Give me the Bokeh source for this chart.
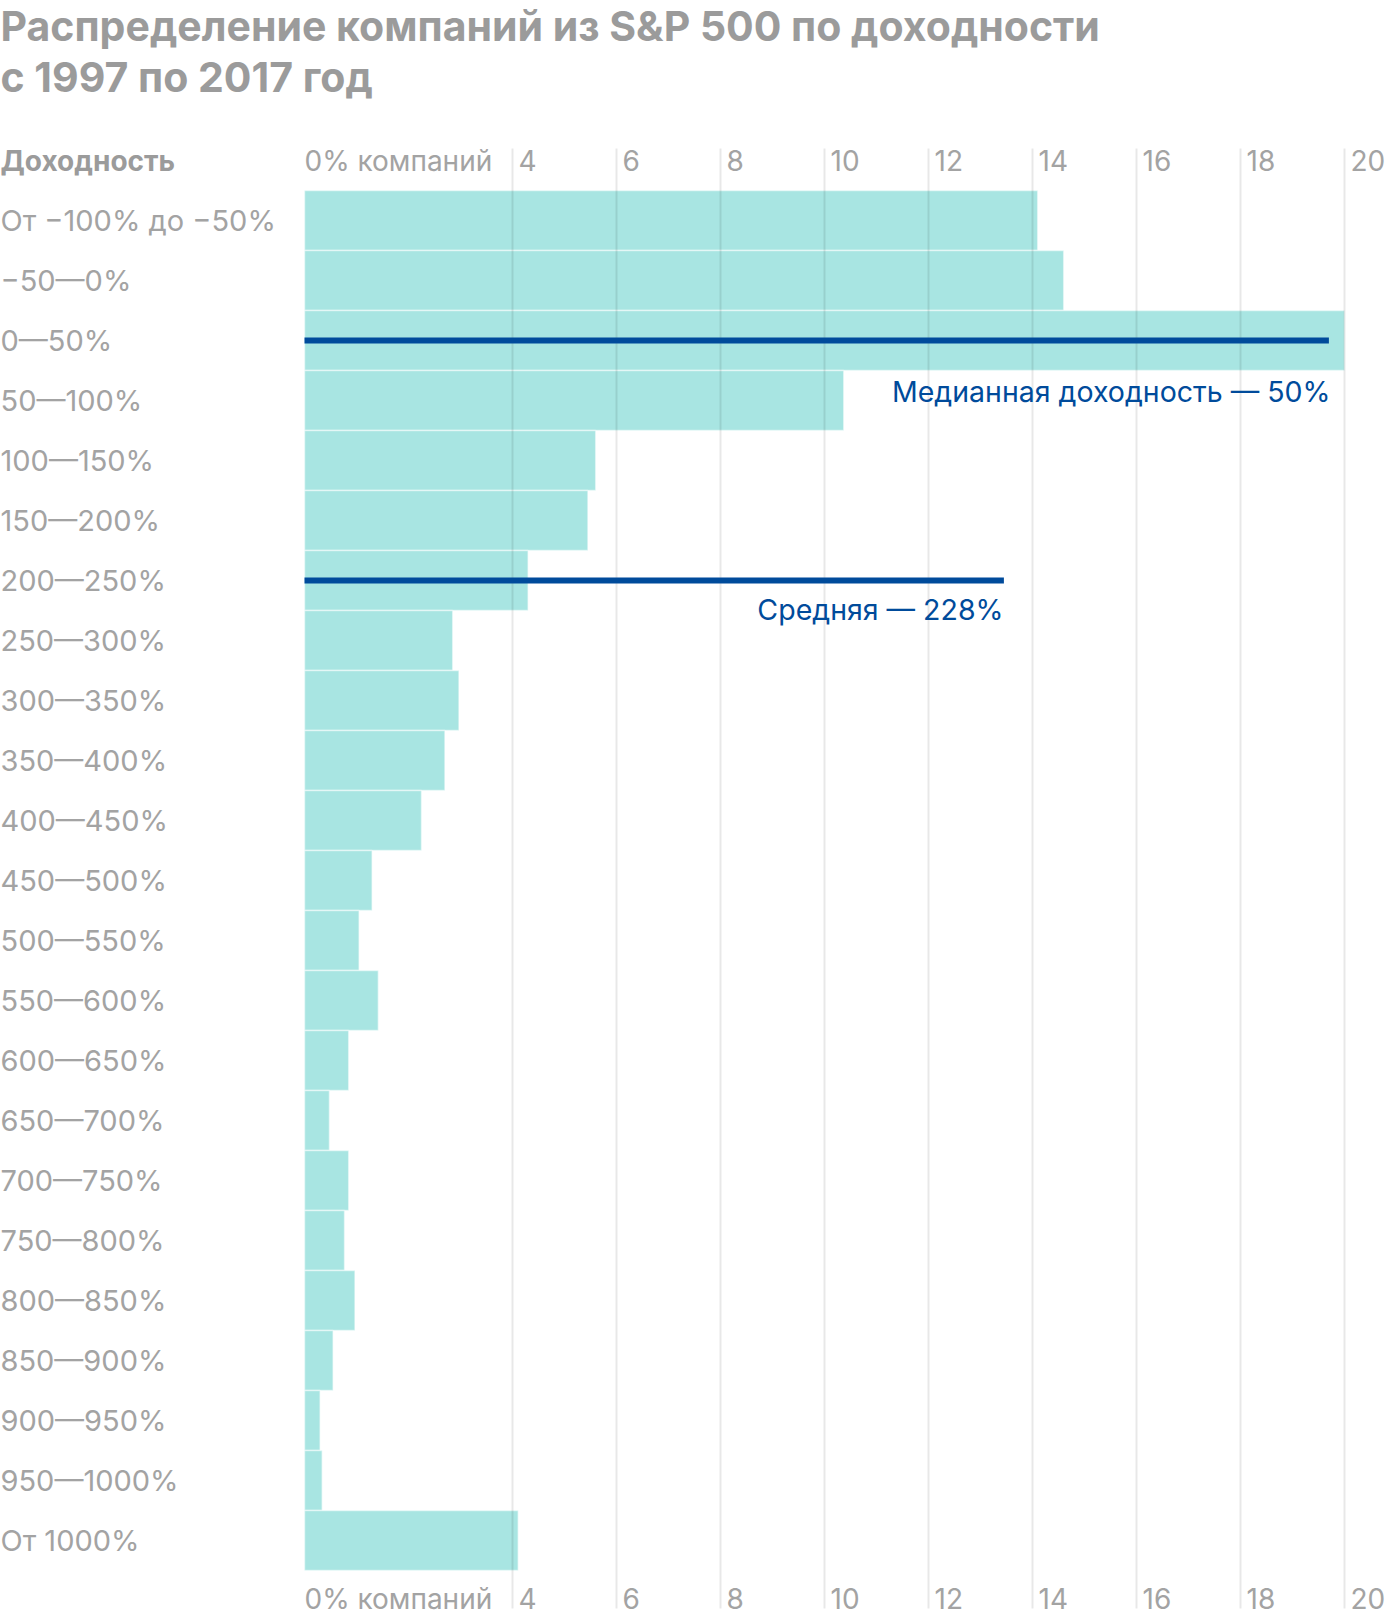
from bokeh.plotting import figure
from bokeh.models import Range1d, ColumnDataSource
from bokeh.core.properties import value
from bokeh.embed import file_html
from bokeh.resources import INLINE

# ---------------- data ----------------
title_lines = ["Распределение компаний из S&P 500 по доходности", "с 1997 по 2017 год"]
header_label = "Доходность"
categories = ["От −100% до −50%", "−50—0%", "0—50%", "50—100%", "100—150%", "150—200%",
              "200—250%", "250—300%", "300—350%", "350—400%", "400—450%", "450—500%",
              "500—550%", "550—600%", "600—650%", "650—700%", "700—750%", "750—800%",
              "800—850%", "850—900%", "900—950%", "950—1000%", "От 1000%"]
shares = [14.1, 14.6, 20.0, 10.37, 5.6, 5.45, 4.3, 2.85, 2.97, 2.7, 2.25, 1.3,
          1.05, 1.42, 0.85, 0.48, 0.85, 0.77, 0.97, 0.55, 0.30, 0.34, 4.11]
tick_values = [0, 4, 6, 8, 10, 12, 14, 16, 18, 20]
tick_labels = ["0% компаний", "4", "6", "8", "10", "12", "14", "16", "18", "20"]
grid_values = [4, 6, 8, 10, 12, 14, 16, 18, 20]
median_row, median_end, median_label = "0—50%", 19.7, "Медианная доходность — 50%"
mean_row, mean_end, mean_label = "200—250%", 13.45, "Средняя — 228%"

# ---------------- layout helpers (pixels -> data) ----------------
W, H = 1396, 1616
X0, PX_PER_UNIT = 304.0, 52.0
ROW0, ROW_H = 220.0, 60.0


def X(px):
    return (px - X0) / PX_PER_UNIT


def Y(px):
    return (px - ROW0) / ROW_H


FONT = value("Inter")
GRAY = "#9b9b9b"
LGRAY = "#a3a3a3"
TEAL = "#a8e5e2"
BLUE = "#004b9b"

p = figure(width=W, height=H, output_backend="svg", toolbar_location=None,
           x_range=Range1d(X(0), X(W)),
           y_range=Range1d(Y(H), Y(0)),
           x_axis_location=None, y_axis_location=None, min_border=0)
p.outline_line_color = None
p.grid.visible = False
p.background_fill_color = "white"

idx = list(range(len(categories)))
bars = ColumnDataSource(dict(y=idx, right=shares, cat=categories))
p.hbar(y="y", left=0, right="right", height=1.0, source=bars,
       fill_color=TEAL, line_color="white", line_alpha=0.5, line_width=1.5)

# gridlines over bars
p.segment(x0=grid_values, x1=grid_values, y0=[Y(148)] * len(grid_values),
          y1=[Y(1608)] * len(grid_values), line_color="black", line_alpha=0.09, line_width=2)

# annotation lines
mi = categories.index(median_row)
ai = categories.index(mean_row)
p.segment(x0=[0, 0], x1=[median_end, mean_end], y0=[mi, ai], y1=[mi, ai],
          line_color=BLUE, line_width=6)
p.text(x=[X(1330), X(1003)], y=[Y(391), Y(609)],
       text=[median_label, mean_label], text_font=FONT, text_font_size="28.5px",
       text_color=BLUE, text_align="right", text_baseline="middle")

# category labels
p.text(x=X(0), y="y", text="cat", source=bars, text_font=FONT, text_font_size="29px",
       text_color=LGRAY, text_align="left", text_baseline="middle")

# tick labels top and bottom
offs = [0 if v == 0 else 6 for v in tick_values]
for ypx in (160, 1598):
    p.text(x=tick_values, y=[Y(ypx)] * len(tick_values), text=tick_labels,
           x_offset=offs, text_font=FONT, text_font_size="28px", text_color=LGRAY,
           text_align="left", text_baseline="middle")

# header
p.text(x=[X(0)], y=[Y(160)], text=[header_label], text_font=FONT, text_font_size="28px",
       text_font_style="bold", text_color=GRAY, text_align="left", text_baseline="middle")

# title
p.text(x=[X(0), X(0)], y=[Y(25), Y(76)], text=title_lines, text_font=FONT,
       text_font_size="41px", text_font_style="bold", text_color=GRAY,
       text_align="left", text_baseline="middle")

open("out.html", "w").write(file_html(p, INLINE))
